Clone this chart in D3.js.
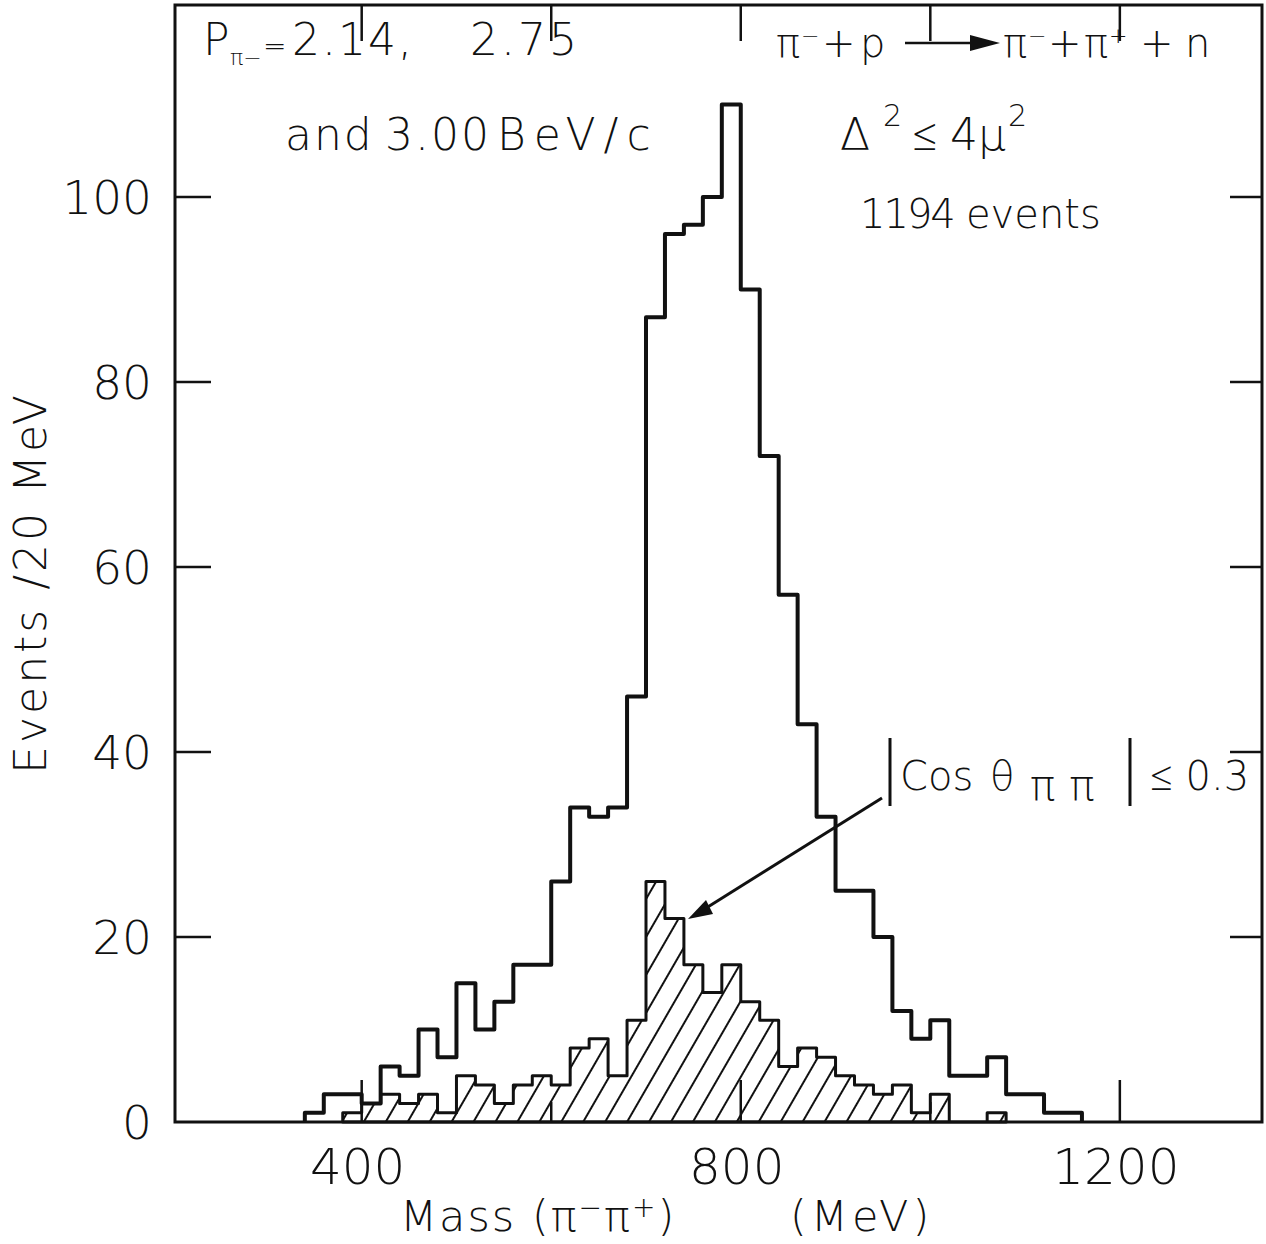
<!DOCTYPE html>
<html><head><meta charset="utf-8">
<script src="https://cdn.jsdelivr.net/npm/d3@7"></script>
<style>
html,body{margin:0;padding:0;background:#fff;}
text{font-family:"DejaVu Sans","Open Sans",sans-serif;font-weight:200;fill:#111;white-space:pre;}
</style></head>
<body>
<svg id="chart" width="1266" height="1244"></svg>
<script>
// ---- data ----
const binWidth = 20; // MeV
const mainBins = [340,360,380,400,420,440,460,480,500,520,540,560,580,600,620,640,660,680,700,720,740,760,780,800,820,840,860,880,900,920,940,960,980,1000,1020,1040,1060,1080,1100,1120,1140];
const mainCounts = [1,3,3,2,6,5,10,7,15,10,13,17,17,26,34,33,34,46,87,96,97,100,110,90,72,57,43,33,25,25,20,12,9,11,5,5,7,3,3,1,1];
const hatchBins = [380,400,420,440,460,480,500,520,540,560,580,600,620,640,660,680,700,720,740,760,780,800,820,840,860,880,900,920,940,960,980,1000,1020,1040,1060];
const hatchCounts = [1,2,3,2,3,1,5,4,2,4,5,4,8,9,5,11,26,22,17,14,17,13,11,6,8,7,5,4,3,4,1,3,0,0,1];
const yTickValues = [0,20,40,60,80,100];
const xTickLabels = [400,800,1200];
const xMinorTicks = [600,1000];
const xTopTicks = [400,600,800,1000,1200];

const svg = d3.select("#chart");
const x = d3.scaleLinear().domain([203,1350]).range([175,1262]);
const y = d3.scaleLinear().domain([0,100]).range([1122,197]);
const frameTop = 5;

// hatch pattern
const defs = svg.append("defs");
const pat = defs.append("pattern").attr("id","hatch").attr("patternUnits","userSpaceOnUse")
  .attr("width",19).attr("height",19).attr("patternTransform","rotate(30)");
pat.append("line").attr("x1",2).attr("y1",0).attr("x2",2).attr("y2",19).attr("stroke","#111").attr("stroke-width",2);

function stepPoints(bins, counts){
  const pts = [[bins[0],0]];
  bins.forEach((b,i)=>{ pts.push([b,counts[i]]); pts.push([b+binWidth,counts[i]]); });
  pts.push([bins[bins.length-1]+binWidth,0]);
  return pts;
}
const line = d3.line().x(d=>x(d[0])).y(d=>y(d[1]));

// hatched histogram
const hp = stepPoints(hatchBins, hatchCounts);
svg.append("path").attr("d", line(hp)+"Z").attr("fill","url(#hatch)").attr("stroke","#111")
  .attr("stroke-width",3).attr("stroke-linejoin","round");

// main histogram
const mp = stepPoints(mainBins, mainCounts);
svg.append("path").attr("d", line(mp)).attr("fill","none").attr("stroke","#111")
  .attr("stroke-width",4).attr("stroke-linejoin","round");

// frame
svg.append("rect").attr("x",x.range()[0]).attr("y",frameTop)
  .attr("width",x.range()[1]-x.range()[0]).attr("height",y(0)-frameTop)
  .attr("fill","none").attr("stroke","#111").attr("stroke-width",3);

// y ticks (inside, both sides)
const yt = svg.append("g");
yTickValues.filter(v=>v>0).forEach(v=>{
  yt.append("line").attr("x1",x.range()[0]).attr("x2",x.range()[0]+36).attr("y1",y(v)).attr("y2",y(v)).attr("stroke","#111").attr("stroke-width",2.5);
  yt.append("line").attr("x1",x.range()[1]).attr("x2",x.range()[1]-32).attr("y1",y(v)).attr("y2",y(v)).attr("stroke","#111").attr("stroke-width",2.5);
});
yTickValues.forEach(v=>{
  yt.append("text").attr("x",152).attr("y",y(v)).attr("dy","0.36em").attr("text-anchor","end")
    .attr("font-size",47).text(v);
});

// x ticks
const xt = svg.append("g");
xTickLabels.forEach(v=>{
  xt.append("line").attr("x1",x(v)).attr("x2",x(v)).attr("y1",y(0)).attr("y2",y(0)-42).attr("stroke","#111").attr("stroke-width",2.5);
  xt.append("text").attr("x",x(v)-4).attr("y",1184).attr("text-anchor","middle").attr("font-size",50).text(v);
});
xMinorTicks.forEach(v=>{
  xt.append("line").attr("x1",x(v)).attr("x2",x(v)).attr("y1",y(0)).attr("y2",y(0)-20).attr("stroke","#111").attr("stroke-width",2.5);
});
xTopTicks.forEach(v=>{
  xt.append("line").attr("x1",x(v)).attr("x2",x(v)).attr("y1",frameTop).attr("y2",frameTop+36).attr("stroke","#111").attr("stroke-width",2.5);
});

// axis titles
const xl = svg.append("text").attr("y",1231).attr("font-size",43).attr("letter-spacing",2);
xl.append("tspan").attr("x",400).text("Mass (π");
xl.append("tspan").attr("dy",-14).attr("font-size",28).text("−");
xl.append("tspan").attr("dy",14).text("π");
xl.append("tspan").attr("dy",-14).attr("font-size",28).text("+");
xl.append("tspan").attr("dy",14).text(")");
xl.append("tspan").attr("x",790).attr("letter-spacing",4).text("(MeV)");

svg.append("text").attr("transform","translate(46,583) rotate(-90)").attr("text-anchor","middle")
  .attr("font-size",44).attr("letter-spacing",3).text("Events /20 MeV");

// annotations
const t1 = svg.append("text").attr("y",55).attr("font-size",44);
t1.append("tspan").attr("x",203).text("P");
t1.append("tspan").attr("x",230).attr("dy",10).attr("font-size",22).text("π−");
t1.append("tspan").attr("x",263).attr("dy",-10).attr("font-size",28).text("=");
t1.append("tspan").attr("x",292).attr("letter-spacing",2).text("2.14,");
t1.append("tspan").attr("x",470).attr("letter-spacing",3).text("2.75");
const ta = svg.append("text").attr("y",150).attr("font-size",44).attr("letter-spacing",2);
ta.append("tspan").attr("x",285).text("and");
ta.append("tspan").attr("x",385).text("3.00");
ta.append("tspan").attr("x",497).attr("letter-spacing",8).text("BeV/c");

const t2 = svg.append("text").attr("y",57).attr("font-size",40);
t2.append("tspan").attr("x",776).text("π");
t2.append("tspan").attr("x",801).attr("dy",-14).attr("font-size",22).text("−");
t2.append("tspan").attr("x",822).attr("dy",14).text("+");
t2.append("tspan").attr("x",860).text("p");
const t3 = svg.append("text").attr("y",57).attr("font-size",40);
t3.append("tspan").attr("x",1003).text("π");
t3.append("tspan").attr("x",1028).attr("dy",-14).attr("font-size",22).text("−");
t3.append("tspan").attr("x",1048).attr("dy",14).text("+");
t3.append("tspan").attr("x",1084).text("π");
t3.append("tspan").attr("x",1109).attr("dy",-14).attr("font-size",22).text("+");
t3.append("tspan").attr("x",1140).attr("dy",14).text("+");
t3.append("tspan").attr("x",1185).text("n");
// reaction arrow
svg.append("line").attr("x1",905).attr("x2",980).attr("y1",43).attr("y2",43).attr("stroke","#111").attr("stroke-width",2.5);
svg.append("path").attr("d","M970,35 L1000,43 L970,51 Z").attr("fill","#111");

const t4 = svg.append("text").attr("y",150).attr("font-size",44);
t4.append("tspan").attr("x",840).text("Δ");
t4.append("tspan").attr("x",883).attr("dy",-24).attr("font-size",30).text("2");
t4.append("tspan").attr("x",912).attr("dy",24).text("≤");
t4.append("tspan").attr("x",950).text("4μ");
t4.append("tspan").attr("x",1008).attr("dy",-24).attr("font-size",30).text("2");
const t6 = svg.append("text").attr("y",228).attr("font-size",40);
t6.append("tspan").attr("x",860).attr("letter-spacing",-2).text("1194");
t6.append("tspan").attr("x",966).text("events");

// cos theta label
svg.append("line").attr("x1",890).attr("x2",890).attr("y1",738).attr("y2",806).attr("stroke","#111").attr("stroke-width",3);
svg.append("line").attr("x1",1130).attr("x2",1130).attr("y1",738).attr("y2",806).attr("stroke","#111").attr("stroke-width",3);
const t5 = svg.append("text").attr("y",790).attr("font-size",40);
t5.append("tspan").attr("x",900).text("Cos");
t5.append("tspan").attr("x",990).text("θ");
t5.append("tspan").attr("x",1030).attr("dy",10).attr("font-size",42).attr("letter-spacing",14).text("ππ");
svg.append("text").attr("x",1150).attr("y",790).attr("font-size",40).text("≤ 0.3");
// pointer arrow
svg.append("line").attr("x1",882).attr("y1",798).attr("x2",703).attr("y2",910).attr("stroke","#111").attr("stroke-width",3);
svg.append("path").attr("d","M688,919 L706,900 L713,914 Z").attr("fill","#111");
</script>
</body></html>
